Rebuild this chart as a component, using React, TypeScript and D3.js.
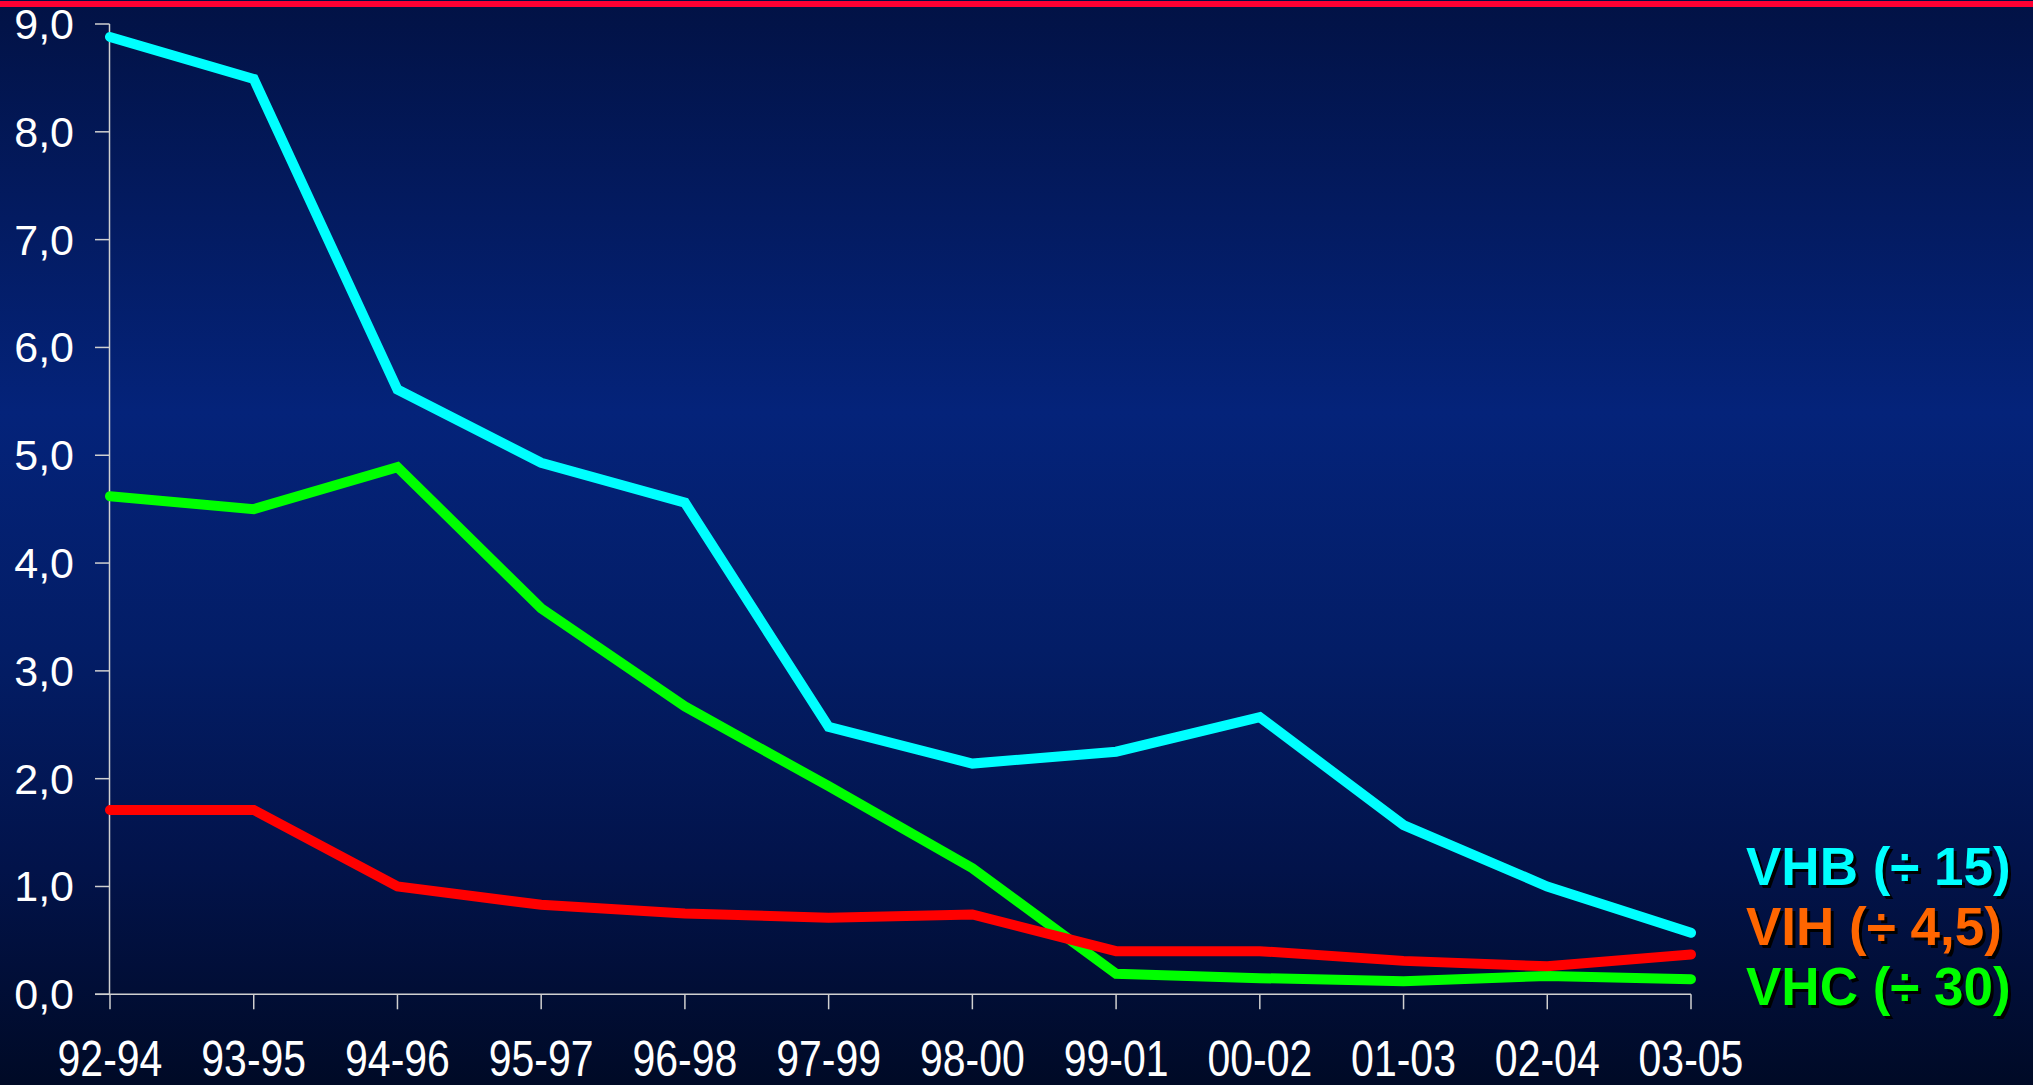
import React from "react";
import * as d3 from "d3";

const categories = ["92-94", "93-95", "94-96", "95-97", "96-98", "97-99", "98-00", "99-01", "00-02", "01-03", "02-04", "03-05"];
const vhb = [8.88, 8.49, 5.61, 4.93, 4.56, 2.48, 2.14, 2.25, 2.57, 1.57, 1.0, 0.57];
const vih = [1.71, 1.71, 1.0, 0.83, 0.75, 0.71, 0.74, 0.4, 0.4, 0.31, 0.26, 0.37];
const vhc = [4.62, 4.5, 4.89, 3.58, 2.67, 1.93, 1.17, 0.19, 0.15, 0.12, 0.17, 0.14];
const yTicks = [0, 1, 2, 3, 4, 5, 6, 7, 8, 9];
const legendLabels = ["VHB (÷ 15)", "VIH (÷ 4,5)", "VHC (÷ 30)"];

const W = 2033;
const H = 1085;

export default function App() {
  const x = d3.scalePoint<string>().domain(categories).range([110, 1691]);
  const y = d3.scaleLinear().domain([0, 9]).range([994.3, 24]);
  const line = d3
    .line<number>()
    .x((_, i) => x(categories[i]) as number)
    .y((d) => y(d));

  const series = [
    { data: vhc, color: "#00ff00" },
    { data: vih, color: "#ff0000" },
    { data: vhb, color: "#00ffff" },
  ];
  const legendColors = ["#00ffff", "#ff6600", "#00ff00"];
  const fmt = (v: number) => v.toFixed(1).replace(".", ",");

  return (
    <div style={{ position: "fixed", left: 0, top: 0, width: W, height: H }}>
      <svg width={W} height={H} style={{ display: "block" }}>
        <defs>
          <linearGradient id="bg" x1="0" y1="0" x2="0" y2="1">
            <stop offset="0" stopColor="#021245" />
            <stop offset="0.38" stopColor="#04237a" />
            <stop offset="0.6" stopColor="#031d66" />
            <stop offset="0.8" stopColor="#02134a" />
            <stop offset="1" stopColor="#000a26" />
          </linearGradient>
        </defs>
        <rect x={0} y={0} width={W} height={H} fill="url(#bg)" />
        <rect x={0} y={1} width={W} height={6} fill="#ff0033" />

        {/* axes */}
        <line x1={109.5} x2={109.5} y1={y(9)} y2={y(0)} stroke="#d0d0d0" strokeWidth={1.5} />
        <line x1={95} x2={1691} y1={y(0)} y2={y(0)} stroke="#d0d0d0" strokeWidth={1.5} />
        {yTicks.map((t) => (
          <g key={t}>
            <line x1={95} x2={109.5} y1={y(t)} y2={y(t)} stroke="#d0d0d0" strokeWidth={1.5} />
            <text
              x={74}
              y={y(t) + 15}
              textAnchor="end"
              fill="#ffffff"
              fontFamily="'Liberation Sans', Arial, sans-serif"
              fontSize={43}
            >
              {fmt(t)}
            </text>
          </g>
        ))}
        {categories.map((c) => (
          <g key={c}>
            <line x1={x(c)} x2={x(c)} y1={y(0)} y2={y(0) + 15} stroke="#d0d0d0" strokeWidth={1.5} />
            <text
              transform={`translate(${x(c)},1076) scale(0.82,1)`}
              textAnchor="middle"
              fill="#ffffff"
              fontFamily="'Liberation Sans', Arial, sans-serif"
              fontSize={50}
            >
              {c}
            </text>
          </g>
        ))}

        {series.map((s, i) => (
          <path
            key={i}
            d={line(s.data) as string}
            fill="none"
            stroke={s.color}
            strokeWidth={10}
            strokeLinecap="round"
            strokeLinejoin="miter"
          />
        ))}

        {legendLabels.map((l, i) => (
          <g key={l} fontFamily="'Liberation Sans', Arial, sans-serif" fontWeight="bold" fontSize={53}>
            <text x={1749} y={888 + i * 60} fill="#000000">
              {l}
            </text>
            <text x={1746} y={885 + i * 60} fill={legendColors[i]}>
              {l}
            </text>
          </g>
        ))}
      </svg>
    </div>
  );
}
